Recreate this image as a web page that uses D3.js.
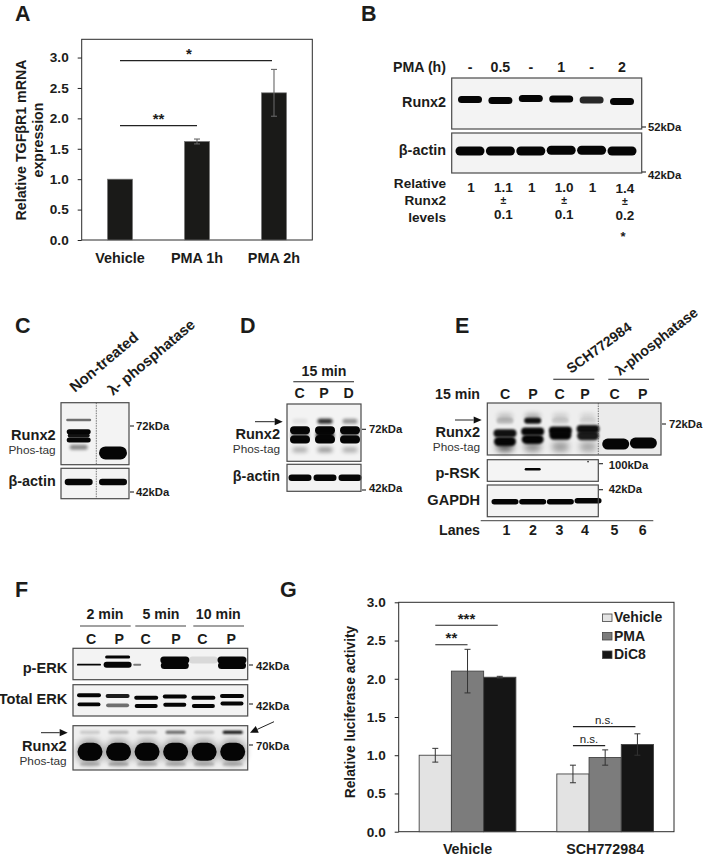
<!DOCTYPE html>
<html><head><meta charset="utf-8">
<script src="https://cdn.jsdelivr.net/npm/d3@7"></script>
<style>html,body{margin:0;padding:0;background:#fff}svg{display:block}text{font-family:"Liberation Sans",Arial,sans-serif;fill:#1c1c1a}</style>
</head><body><svg id="c" width="714" height="859"></svg>
<script>
// ---------- Bar chart data ----------
const aCategories = ["Vehicle","PMA 1h","PMA 2h"];
const aMeans = [1.0,1.62,2.42];
const aErrors = [0,0.04,0.385];
const aTicks = [0,0.5,1,1.5,2,2.5,3];
const aSig = [{from:0,to:2,level:2.95,label:"*"},{from:0,to:1,level:1.88,label:"**"}];

const gGroups = ["Vehicle","SCH772984"];
const gSeries = ["Vehicle","PMA","DiC8"];
const gMeans = [[1.0,2.1,2.02],[0.755,0.97,1.14]];
const gErrors = [[0.09,0.285,0.012],[0.115,0.1,0.14]];
const gTicks = [0,0.5,1,1.5,2,2.5,3];
const gSig = [
 {group:0,from:0,to:2,level:2.7,label:"***"},
 {group:0,from:0,to:1,level:2.445,label:"**"},
 {group:1,from:0,to:2,level:1.375,label:"n.s."},
 {group:1,from:0,to:1,level:1.125,label:"n.s."}];

// ---------- Blot lane labels and densitometry ----------
const bLanes = ["-","0.5","-","1","-","2"];
const bRelative = ["1","1.1","1","1.0","1","1.4"];
const bSpread = ["","0.1","","0.1","","0.2"];
const dLanes = ["C","P","D"];
const eLanes = ["C","P","C","P","C","P"];
const eLaneNumbers = ["1","2","3","4","5","6"];
const fTimes = ["2 min","5 min","10 min"];
const fLanes = ["C","P","C","P","C","P"];

const bRunx2 = [{m:[.42,.44,.40,.41,.43,.46],d:[1,1,1,1,.85,1],h:7,w:24}];
const bActin = [{m:[.45,.45,.45,.43,.43,.45],d:[1,1,1,1,1,1],h:9,w:29}];
const cRunx2 = [
 {m:.28,d:[.55,null],h:2.5,w:25},
 {m:.47,d:[1,null],h:5,w:24},
 {m:.53,d:[.95,null],h:4,w:22},
 {m:.60,d:[1,null],h:5,w:24},
 {m:.72,d:[.45,null],h:5,w:18,blur:1.8},
 {m:.81,d:[null,1],h:13,w:28}];
const cActin = [{m:.45,d:[1,1],h:6.5,w:28}];
const dRunx2 = [
 {m:.30,d:[.08,.85,.4],h:5,w:15,blur:1.4},
 {m:.46,d:[1,1,1],h:8,w:20},
 {m:.62,d:[1,1,1],h:8,w:20},
 {m:.55,d:[.5,1,.5],h:8,w:18,blur:1.5},
 {m:.80,d:[.3,.4,.3],h:5,w:15,blur:2}];
const dActin = [{m:.5,d:[1,1,1],h:6.5,w:23}];
const eRunx2 = [
 {m:.26,d:[.2,.3,.15,.12,null,null],h:6,w:15,blur:2.5},
 {m:.34,d:[.2,.95,.12,.08,null,null],h:6,w:17,blur:1.3},
 {m:[.58,.55,.53,.5],d:[.95,1,1,.95,null,null],h:8,w:23,blur:1},
 {m:[.74,.7,.62,.63],d:[1,1,1,.9,null,null],h:9,w:22,blur:1},
 {m:.84,d:[.6,.4,.35,.3,null,null],h:10,w:17,blur:3},
 {m:[0,0,0,0,.79,.77],d:[null,null,null,null,1,1],h:11,w:27}];
const eRsk = [{m:.44,d:[null,1,null,null],h:2.5,w:16,blur:.5},{m:.09,d:[null,null,null,.9],h:1.6,w:1.6,blur:.3}];
const eGapdh = [{m:[.53,.53,.53,.5],d:[1,1,1,1],h:5.5,w:27}];
const fPerk = [
 {m:.52,d:[1,null,null,null,null,null],h:1.8,w:24,blur:.4},
 {m:.52,d:[null,1,null,null,null,null],h:6,w:28},
 {m:.28,d:[null,1,null,null,null,null],h:3,w:25,blur:.5},
 {m:.37,d:[null,null,null,1,.1,1],h:7,w:29},
 {m:.55,d:[null,null,null,1,null,1],h:7,w:28},
 {m:.52,d:[null,null,.5,null,null,null],h:2,w:8,dx:-9}];
const fTotal = [
 {m:[.34,.36,.42,.38,.42,.36],d:[1,.9,1,1,1,1],h:4,w:24,blur:.5},
 {m:[.63,.66,.68,.64,.68,.6],d:[1,.55,1,1,1,1],h:3.8,w:23,blur:.5}];
const fRunx2 = [
 {m:.15,d:[.16,.25,.25,.6,.2,1],h:3,w:20,blur:1},
 {m:.59,d:[.3,.3,.3,.3,.3,.3],h:26,w:28,blur:3},
 {m:.59,d:[1,1,1,1,1,1],h:18,w:25},
 {m:.87,d:[.2,.25,.2,.2,.2,.2],h:3,w:20,blur:1.2}];

// ---------- Helpers ----------
const svg = d3.select("#c");
function txt(x,y,s,o={}){
 const t = svg.append("text").attr("x",x).attr("y",y).text(s)
  .attr("font-size",o.size||14.2).attr("font-weight",o.weight||"bold")
  .attr("text-anchor",o.anchor||"start");
 if(o.fill) t.style("fill",o.fill);
 if(o.rot!==undefined) t.attr("transform",`rotate(${o.rot} ${x} ${y})`);
 return t;
}
function hline(x1,x2,y,c,w){svg.append("line").attr("x1",x1).attr("x2",x2).attr("y1",y).attr("y2",y).attr("stroke",c||"#222").attr("stroke-width",w||1.1);}
function arrow(x1,y1,x2,y2,hl){
 const L=Math.hypot(x2-x1,y2-y1);
 svg.append("line").attr("x1",x1).attr("y1",y1).attr("x2",x2-(x2-x1)*hl/L).attr("y2",y2-(y2-y1)*hl/L).attr("stroke","#222").attr("stroke-width",1);
 const a=Math.atan2(y2-y1,x2-x1)*180/Math.PI;
 svg.append("path").attr("d",`M0,0L${-hl},-3.6L${-hl},3.6Z`).attr("fill","#111").attr("transform",`translate(${x2},${y2}) rotate(${a})`);
}
function kda(x1,y,tx,ty,s){hline(x1,x1+4,y,"#222",1.1);txt(tx,ty,s,{size:11.3});}
function blot(o){
 const g=svg.append("g");
 const x=d3.scaleLinear().domain([0,o.n-1]).range(o.lanes);
 const y=d3.scaleLinear().domain([0,1]).range([o.y0,o.y1]);
 g.append("rect").attr("x",o.x0).attr("y",o.y0).attr("width",o.x1-o.x0).attr("height",o.y1-o.y0).attr("fill",o.bg||"#f3f3f3");
 if(o.bgRight){g.append("rect").attr("x",o.split).attr("y",o.y0).attr("width",o.x1-o.split).attr("height",o.y1-o.y0).attr("fill",o.bgRight);}
 o.rows.forEach(r=>{
  const items=r.d.map((d,i)=>({d,i,m:Array.isArray(r.m)?r.m[i]:r.m})).filter(e=>e.d!==null);
  g.selectAll(null).data(items).join("rect")
   .attr("x",e=>x(e.i)+(r.dx||0)-r.w/2).attr("y",e=>y(e.m)-r.h/2)
   .attr("width",r.w).attr("height",r.h).attr("rx",Math.min(r.w,r.h)/2)
   .attr("fill","#050505").attr("opacity",e=>e.d)
   .style("filter",`blur(${r.blur===undefined?0.7:r.blur}px)`);
 });
 if(o.split) g.append("line").attr("x1",o.split).attr("x2",o.split).attr("y1",o.y0).attr("y2",o.y1).attr("stroke","#555").attr("stroke-width",.8).attr("stroke-dasharray","1.5,1");
 g.append("rect").attr("x",o.x0).attr("y",o.y0).attr("width",o.x1-o.x0).attr("height",o.y1-o.y0).attr("fill","none").attr("stroke","#4a4a4a").attr("stroke-width",1.2);
}
// ---------- Panel letters ----------
[["A",15,21],["B",361,21],["C",15,333],["D",240,333],["E",455,333],["F",15,597],["G",280,597]]
 .forEach(l=>txt(l[1],l[2],l[0],{size:21.5}));

// ---------- Panel A ----------
{
 const x=d3.scaleBand().domain(aCategories).range([81.7,312.3]).paddingInner(.675).paddingOuter(.335);
 const y=d3.scaleLinear().domain([0,3.3]).range([240,39.3]);
 svg.append("rect").attr("x",81.7).attr("y",39.3).attr("width",230.6).attr("height",200.7).attr("fill","#fff").attr("stroke","#2a2a2a").attr("stroke-width",1);
 svg.selectAll(null).data(aMeans).join("rect").attr("x",(d,i)=>x(aCategories[i])).attr("width",x.bandwidth())
  .attr("y",d=>y(d)).attr("height",d=>y(0)-y(d)).attr("fill","#1a1a18").attr("stroke","#777").attr("stroke-width",.7);
 const ax=svg.append("g").attr("transform","translate(81.7,0)").call(d3.axisLeft(y).tickValues(aTicks).tickFormat(d3.format(".1f")).tickSize(4).tickPadding(9));
 ax.select(".domain").remove();
 ax.selectAll("text").attr("font-size",13.6).attr("font-weight","bold").attr("font-family",null);
 ax.selectAll("line").attr("stroke","#222");
 aMeans.forEach((m,i)=>{ if(!aErrors[i])return;
  const cx=x(aCategories[i])+x.bandwidth()/2;
  const g=svg.append("g").attr("stroke","#666").attr("stroke-width",1.1);
  g.append("line").attr("x1",cx).attr("x2",cx).attr("y1",y(m+aErrors[i])).attr("y2",y(m-aErrors[i]));
  [m+aErrors[i],m-aErrors[i]].forEach(v=>g.append("line").attr("x1",cx-3).attr("x2",cx+3).attr("y1",y(v)).attr("y2",y(v)));
 });
 aCategories.forEach(c=>txt(x(c)+x.bandwidth()/2,262.5,c,{size:14.4,anchor:"middle"}));
 aSig.forEach(s=>{
  const c=k=>x(aCategories[k])+x.bandwidth()/2;
  hline(c(s.from),c(s.to)-(s.to==2?2:0),y(s.level),"#222",1.2);
  txt((c(s.from)+c(s.to))/2+(s.to==2?-8:0),y(s.level)-2,s.label,{size:15,anchor:"middle"});
 });
 txt(26,140,"Relative TGFβR1 mRNA",{size:14.2,anchor:"middle",rot:-90});
 txt(42.5,140,"expression",{size:14.2,anchor:"middle",rot:-90});
}
// ---------- Panel B ----------
{
 const L=[470,622];
 const x=d3.scalePoint().domain(d3.range(6)).range(L);
 blot({x0:451.7,x1:641.7,y0:78,y1:129,n:6,lanes:L,rows:bRunx2});
 blot({x0:451.7,x1:641.7,y0:133,y1:173,n:6,lanes:L,rows:bActin});
 txt(446,72,"PMA (h)",{anchor:"end"});
 bLanes.forEach((s,i)=>txt(x(i),72,s,{anchor:"middle"}));
 txt(446,107,"Runx2",{size:14.4,anchor:"end"});
 txt(446,155,"β-actin",{size:14.4,anchor:"end"});
 ["Relative","Runx2","levels"].forEach((s,i)=>txt(446,188+i*17,s,{size:13.6,anchor:"end"}));
 bRelative.forEach((s,i)=>{
  const cx=x(i)+(i%2?3:1), up=i==5?1:0;
  txt(cx,191.5+up,s,{size:13.5,anchor:"middle"});
  if(bSpread[i]){txt(cx,204+up,"±",{size:10.5,anchor:"middle"});txt(cx,218.5+up,bSpread[i],{size:13.5,anchor:"middle"});}
 });
 txt(x(5)+1,241,"*",{size:13,anchor:"middle"});
 kda(642,127,648,131,"52kDa");
 kda(642,172,648,179,"42kDa");
}
// ---------- Panel C ----------
blot({x0:61,x1:129,y0:402.7,y1:464.7,n:2,lanes:[78.7,113],rows:cRunx2,split:96.3});
blot({x0:61,x1:129,y0:468.3,y1:498.7,n:2,lanes:[78.7,113],rows:cActin,split:96.3});
txt(75,393,"Non-treated",{size:15,rot:-40});
txt(113,396,"λ- phosphatase",{size:14.8,rot:-40});
txt(55.7,440,"Runx2",{size:14.6,anchor:"end"});
txt(55.7,454,"Phos-tag",{size:11.8,anchor:"end",weight:"normal",fill:"#333"});
txt(55.7,486,"β-actin",{size:14.4,anchor:"end"});
kda(130,426,136,430,"72kDa");
kda(130,492,136,496,"42kDa");
// ---------- Panel D ----------
blot({x0:287,x1:361,y0:404,y1:461.3,n:3,lanes:[300,350],rows:dRunx2});
blot({x0:287,x1:361,y0:464.3,y1:491.3,n:3,lanes:[300,350],rows:dActin});
txt(324,376,"15 min",{anchor:"middle"});
hline(293.3,354,381.7);
dLanes.forEach((s,i)=>txt(299.5+i*24.5,398,s,{anchor:"middle"}));
arrow(255,421.7,282.7,421.7,8);
txt(280,439,"Runx2",{size:14.6,anchor:"end"});
txt(280,453,"Phos-tag",{size:11.8,anchor:"end",weight:"normal",fill:"#333"});
txt(280,481,"β-actin",{size:14.4,anchor:"end"});
kda(362,429.3,369,433,"72kDa");
kda(362,490,369,492,"42kDa");
// ---------- Panel E ----------
blot({x0:487.3,x1:661,y0:403,y1:455,n:6,lanes:[505,643.4],rows:eRunx2,bg:"#eeeeee",split:598.3,bgRight:"#ebebeb"});
blot({x0:487.3,x1:598.3,y0:459.7,y1:481.3,n:6,lanes:[505,643.4],rows:eRsk,bg:"#f4f4f4"});
blot({x0:487.3,x1:598.3,y0:485,y1:516.7,n:6,lanes:[505,643.4],rows:eGapdh});
txt(480,398.7,"15 min",{anchor:"end"});
const eX=[505,533,559.5,585,614.5,642.7];
eLanes.forEach((s,i)=>txt(eX[i],398.7,s,{anchor:"middle"}));
hline(553.3,594.3,379.3);hline(608.3,649,379.3);
txt(571,374,"SCH772984",{size:14,rot:-36});
txt(620,376,"λ-phosphatase",{size:14.2,rot:-38});
arrow(455,420,481.7,420,8);
txt(480,437,"Runx2",{size:14.6,anchor:"end"});
txt(480,451,"Phos-tag",{size:11.8,anchor:"end",weight:"normal",fill:"#333"});
txt(480,477.7,"p-RSK",{size:14.6,anchor:"end"});
txt(480,504.5,"GAPDH",{size:14.6,anchor:"end"});
kda(662,424,669,428,"72kDa");
kda(599,463.7,608.7,469,"100kDa");
kda(599,489.7,608.7,493,"42kDa");
hline(480.7,653.3,520.7,"#666",1.3);
txt(480,534.5,"Lanes",{anchor:"end"});
eLaneNumbers.forEach((s,i)=>txt(eX[i]+(i==0?1.5:0),534.5,s,{anchor:"middle"}));
// ---------- Panel F ----------
blot({x0:73,x1:247.7,y0:648.3,y1:679.7,n:6,lanes:[89,232],rows:fPerk});
blot({x0:73,x1:247.7,y0:684.7,y1:716,n:6,lanes:[89,232],rows:fTotal});
blot({x0:73,x1:247.7,y0:725.7,y1:770,n:6,lanes:[90,232.7],rows:fRunx2,bg:"#eeeeee"});
const fTimeX=[105,161,218.3], fLine=[[80,130.7],[135.3,186],[193.3,244]];
fTimes.forEach((s,i)=>{txt(fTimeX[i],619.3,s,{anchor:"middle"});hline(fLine[i][0],fLine[i][1],626,"#444",1.2);});
const fX=[91,119.3,145.7,176,202.3,231.3];
fLanes.forEach((s,i)=>txt(fX[i],644,s,{anchor:"middle"}));
txt(67.3,673.3,"p-ERK",{size:14.6,anchor:"end"});
txt(67.3,704,"Total ERK",{size:14.6,anchor:"end"});
txt(66.7,751,"Runx2",{size:14.6,anchor:"end"});
txt(66.7,764.5,"Phos-tag",{size:11.8,anchor:"end",weight:"normal",fill:"#333"});
kda(249,665,256,670,"42kDa");
kda(249,704,256,709.5,"42kDa");
kda(249,745,256,750,"70kDa");
arrow(41,732.7,67.7,732.7,8);
arrow(274,721.7,250,732.7,8);
// ---------- Panel G ----------
{
 const X0=398.7,X1=674,Y0=831.7,Y1=602.3;
 const x0=d3.scaleBand().domain(gGroups).range([X0,X1]);
 const x1=d3.scaleBand().domain(gSeries).range([0,x0.bandwidth()]).paddingOuter(.635).paddingInner(0);
 const y=d3.scaleLinear().domain([0,3]).range([Y0,Y1]);
 const col=d3.scaleOrdinal().domain(gSeries).range(["#e3e3e3","#7c7c7c","#151515"]);
 svg.append("rect").attr("x",X0).attr("y",Y1).attr("width",X1-X0).attr("height",Y0-Y1).attr("fill","#fff").attr("stroke","#2a2a2a").attr("stroke-width",1);
 const xc=(g,s)=>x0(gGroups[g])+x1(gSeries[s])+x1.bandwidth()/2;
 gMeans.forEach((vals,g)=>{
  vals.forEach((v,s)=>{
   svg.append("rect").attr("x",xc(g,s)-x1.bandwidth()/2).attr("width",x1.bandwidth()).attr("y",y(v)).attr("height",y(0)-y(v))
    .attr("fill",col(gSeries[s])).attr("stroke","#444").attr("stroke-width",.9);
  });
 });
 gMeans.forEach((vals,g)=>vals.forEach((v,s)=>{
   const e=gErrors[g][s],cx=xc(g,s);
   const l=svg.append("g").attr("stroke","#333").attr("stroke-width",1);
   l.append("line").attr("x1",cx).attr("x2",cx).attr("y1",y(v+e)).attr("y2",y(v-e));
   [v+e,v-e].forEach(w=>l.append("line").attr("x1",cx-3).attr("x2",cx+3).attr("y1",y(w)).attr("y2",y(w)));
 }));
 const ax=svg.append("g").attr("transform",`translate(${X0},0)`).call(d3.axisLeft(y).tickValues(gTicks).tickFormat(d3.format(".1f")).tickSize(4).tickPadding(9));
 ax.select(".domain").remove();
 ax.selectAll("text").attr("font-size",13.6).attr("font-weight","bold").attr("font-family",null);
 ax.selectAll("line").attr("stroke","#222");
 gGroups.forEach(c=>txt(x0(c)+x0.bandwidth()/2,853.5,c,{size:14.3,anchor:"middle"}));
 txt(354.7,712,"Relative luciferase activity",{size:13.8,anchor:"middle",rot:-90});
 gSig.forEach(s=>{
  const a=xc(s.group,s.from),b=xc(s.group,s.to)-(s.to==2?2:0),sy=y(s.level);
  hline(a,b,sy,"#222",1.2);
  const ns=s.label==="n.s.";
  txt((a+b)/2,sy-(ns?2.6:1.5),s.label,{size:ns?11.5:15,anchor:"middle",weight:ns?"normal":"bold"});
 });
 gSeries.forEach((s,i)=>{
  const base=622+i*18.5;
  svg.append("rect").attr("x",602.5).attr("y",base-8).attr("width",9.5).attr("height",7.5).attr("fill",col(s)).attr("stroke","#444").attr("stroke-width",.8);
  txt(614,base,s,{size:14});
 });
}
</script></body></html>
